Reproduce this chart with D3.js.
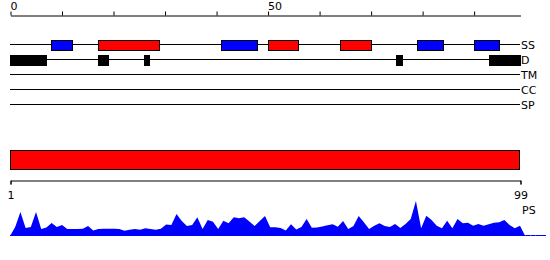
<!DOCTYPE html>
<html>
<head>
<meta charset="utf-8">
<script src="https://cdn.jsdelivr.net/npm/d3@7"></script>
<style>
  html, body { margin: 0; padding: 0; background: #fff; }
  svg { display: block; }
  text { font-family: "DejaVu Sans", sans-serif; font-size: 11px; fill: #000; }
</style>
</head>
<body>
<svg id="chart" width="550" height="260"></svg>
<script>
// ---- data ----
const trackNames = ["SS", "D", "TM", "CC", "SP"];
const topTickValues = [0, 10, 20, 30, 40, 50, 60, 70, 80, 90];
const topTickLabels = ["0", "", "", "", "", "50", "", "", "", ""];

// secondary structure segments (start, end, type: H = helix red, E = strand blue)
const ssStart = [8, 17, 41, 50, 64, 79, 90];
const ssEnd   = [12, 29, 48, 56, 70, 84, 95];
const ssType  = ["E", "H", "E", "H", "H", "E", "E"];

// disorder segments
const dStart = [0, 17, 26, 75, 93];
const dEnd   = [7, 19, 27, 76, 99];

// domain bar
const domainStart = 0;
const domainEnd = 99;

// bottom axis
const bottomTickValues = [1, 99];
const bottomTickLabels = ["1", "99"];
const profileLabel = "PS";

// per-residue profile score, positions 1..104 (trailing zeros beyond sequence)
const profilePos = d3.range(1, 105);
const profileVal = [
  0, 9, 24, 8, 9, 24, 7, 8.5, 13, 9,
  11, 7, 7, 7, 7.3, 10, 5.5, 7, 7.3, 7.3,
  7.3, 7, 5.3, 6.3, 7, 6.3, 7.7, 7, 6.3, 7.3,
  11.5, 11, 22, 15, 10, 11, 18.7, 7, 16, 14.3,
  7, 15.3, 12.7, 18.7, 17.7, 18.7, 14.5, 10, 15, 20,
  8.7, 8.7, 8, 5.5, 11.7, 6.5, 9, 17, 8.3, 8.5,
  9.5, 10.7, 11.7, 9.3, 15, 7, 10, 20, 13.7, 7,
  10.3, 12.7, 10, 9, 12, 8, 12, 17, 35, 7.7,
  20.3, 16, 10.3, 7.7, 15.3, 7.7, 17, 12.7, 13.3, 10.3,
  12, 10.3, 11.7, 13.3, 13.7, 16, 11, 7.7, 10.3, 0,
  0, 0, 0, 0
];

// ---- layout ----
const colors = { H: "#ff0000", E: "#0000ff" };
const svg = d3.select("#chart");

const xTop = d3.scaleLinear().domain([0, 99]).range([10, 520]);
const xBot = d3.scaleLinear().domain([1, 99]).range([10, 520]);
const yTrack = d3.scalePoint().domain(trackNames).range([44.5, 104.5]);
const yProf = d3.scaleLinear().domain([0, 40]).range([236, 196]);

// top axis
const topAxis = d3.axisTop(xTop)
  .tickValues(topTickValues)
  .tickSize(4)
  .tickSizeOuter(0)
  .tickFormat((d, i) => topTickLabels[i]);
const gTop = svg.append("g").attr("transform", "translate(0.5,15.5)").call(topAxis);
gTop.selectAll("text").attr("text-anchor", "start").attr("y", -5.5).attr("dy", 0).attr("x", -0.5)
  .style("font-family", "DejaVu Sans").style("font-size", "11px");
gTop.select(".domain").attr("stroke", "#000");

// track lines
svg.append("g").selectAll("line").data(trackNames).join("line")
  .attr("x1", xTop(0)).attr("x2", xTop(99))
  .attr("y1", d => yTrack(d)).attr("y2", d => yTrack(d))
  .attr("stroke", "#000").attr("stroke-width", 1);

svg.append("g").selectAll("text").data(trackNames).join("text")
  .attr("x", xTop(99) + 1)
  .attr("y", d => yTrack(d) + 4.5)
  .text(d => d);

// SS boxes
svg.append("g").selectAll("rect").data(ssStart).join("rect")
  .attr("x", (d) => Math.round(xTop(d)) + 0.5)
  .attr("y", yTrack("SS") - 4)
  .attr("width", (d, i) => Math.round(xTop(ssEnd[i])) - Math.round(xTop(d)))
  .attr("height", 10)
  .attr("fill", (d, i) => colors[ssType[i]])
  .attr("stroke", "#000").attr("stroke-width", 1);

// disorder boxes
svg.append("g").selectAll("rect").data(dStart).join("rect")
  .attr("x", (d) => Math.round(xTop(d)))
  .attr("y", yTrack("D") - 4.5)
  .attr("width", (d, i) => Math.round(xTop(dEnd[i])) - Math.round(xTop(d)) + 1)
  .attr("height", 11)
  .attr("fill", "#000");

// domain bar
svg.append("rect")
  .attr("x", xTop(domainStart) + 0.5)
  .attr("y", 150.5)
  .attr("width", xTop(domainEnd) - xTop(domainStart) - 1)
  .attr("height", 19)
  .attr("fill", "#ff0000")
  .attr("stroke", "#000").attr("stroke-width", 1);

// bottom axis
const botAxis = d3.axisBottom(xBot)
  .tickValues(bottomTickValues)
  .tickSize(4)
  .tickSizeOuter(4)
  .tickFormat((d, i) => bottomTickLabels[i]);
const gBot = svg.append("g").attr("transform", "translate(0.5,180.5)").call(botAxis);
gBot.selectAll("text").attr("y", 18.5).attr("dy", 0)
  .style("font-family", "DejaVu Sans").style("font-size", "11px");

svg.append("text")
  .attr("x", xBot(99) + 2)
  .attr("y", 214)
  .text(profileLabel);

// profile area
const area = d3.area()
  .x((d, i) => xBot(profilePos[i]))
  .y0(yProf(0))
  .y1(d => yProf(d));
svg.append("path")
  .datum(profileVal)
  .attr("d", area)
  .attr("fill", "#0000ff");

const base = d3.line()
  .x((d, i) => xBot(profilePos[i]))
  .y(() => yProf(0) - 0.5);
svg.append("path")
  .datum(profileVal)
  .attr("d", base)
  .attr("fill", "none")
  .attr("stroke", "#0000ff")
  .attr("stroke-width", 1);
</script>
</body>
</html>
